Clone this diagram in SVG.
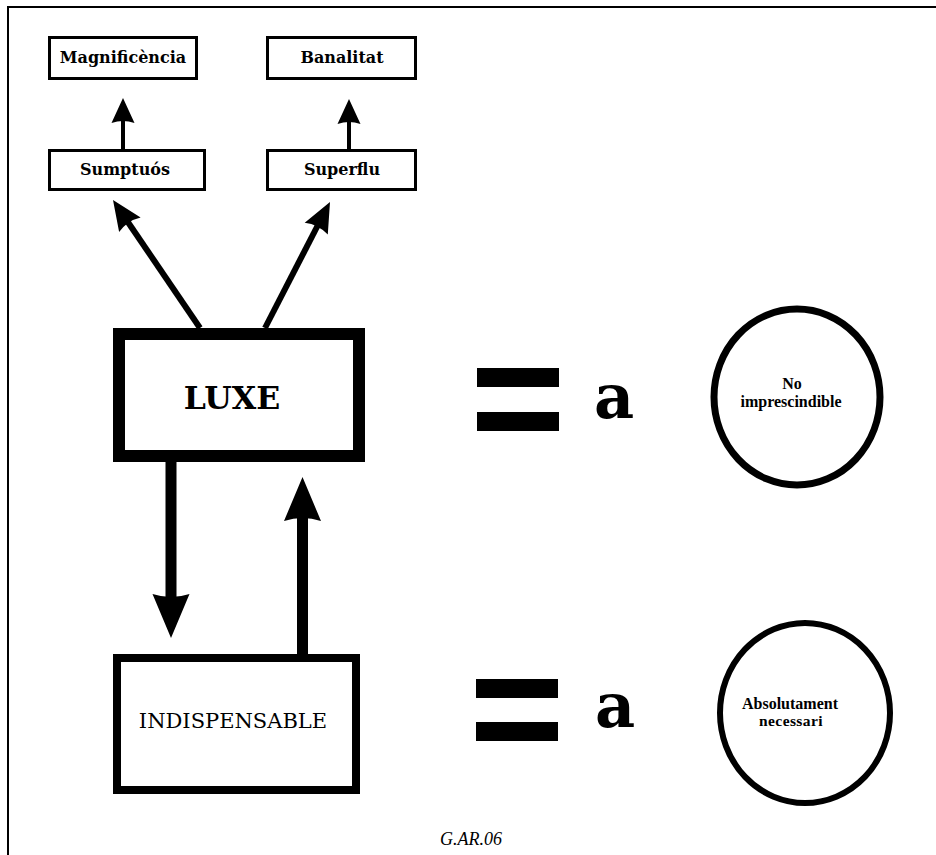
<svg xmlns="http://www.w3.org/2000/svg" width="936" height="855" viewBox="0 0 936 855">
<style>
.frame{fill:none;stroke:#000;stroke-width:2}
.sbox{fill:#fff;stroke:#000;stroke-width:3}
.stxt{font-family:"DejaVu Serif","Liberation Serif",serif;font-weight:bold;font-size:16px;text-anchor:middle;fill:#000}
.ctxt{font-family:"Liberation Serif","DejaVu Serif",serif;font-weight:bold;font-size:16px;text-anchor:middle;fill:#000}
.shaft{stroke:#000;fill:none}
.head{fill:#000}
.eq{fill:#000}
.atxt{font-family:"DejaVu Serif","Liberation Serif",serif;font-weight:bold;font-size:62px;fill:#000}
.circ{fill:#fff;stroke:#000}
</style>
<defs>
<path id="headS" d="M0,0 L11.5,25 Q0,21 -11.5,25 Z"/>
<path id="headM" d="M0,0 L13,30 Q0,25 -13,30 Z"/>
<path id="headL" d="M0,0 L18.5,44 Q0,38 -18.5,44 Z"/>
</defs>
<rect width="936" height="855" fill="#fff"/>
<path class="frame" d="M8,855 V7 H936"/>

<g id="connectors">
<line class="shaft" x1="123" y1="149" x2="123" y2="115" stroke-width="4"/>
<use href="#headS" class="head" transform="translate(123,98)"/>
<line class="shaft" x1="349" y1="149" x2="349" y2="115" stroke-width="4"/>
<use href="#headS" class="head" transform="translate(349,99)"/>
<line class="shaft" x1="200" y1="328" x2="126.5" y2="220" stroke-width="6"/>
<use href="#headM" class="head" transform="translate(113,200) rotate(-34.2)"/>
<line class="shaft" x1="265" y1="328" x2="319" y2="223" stroke-width="6"/>
<use href="#headM" class="head" transform="translate(330,202) rotate(27.3)"/>
<line class="shaft" x1="171" y1="462" x2="171" y2="600" stroke-width="11"/>
<use href="#headL" class="head" transform="translate(171,638) rotate(180)"/>
<line class="shaft" x1="302.5" y1="655" x2="302.5" y2="512" stroke-width="11"/>
<use href="#headL" class="head" transform="translate(302.5,477)"/>
</g>

<g id="magnificencia">
<rect class="sbox" x="49.5" y="37.5" width="147" height="41"/>
<text class="stxt" x="123" y="63">Magnificència</text>
</g>
<g id="banalitat">
<rect class="sbox" x="267.5" y="37.5" width="148" height="41"/>
<text class="stxt" x="342" y="63">Banalitat</text>
</g>
<g id="sumptuos">
<rect class="sbox" x="49.5" y="150.5" width="155" height="39"/>
<text class="stxt" x="125" y="175">Sumptuós</text>
</g>
<g id="superflu">
<rect class="sbox" x="267.5" y="150.5" width="148" height="39"/>
<text class="stxt" x="342" y="175">Superflu</text>
</g>

<g id="luxe">
<rect x="119" y="334" width="240" height="122" fill="#fff" stroke="#000" stroke-width="12"/>
<text x="232" y="409" font-family="DejaVu Serif, Liberation Serif, serif" font-weight="bold" font-size="31.5" text-anchor="middle">LUXE</text>
</g>
<g id="indispensable">
<rect x="117" y="658" width="239" height="132" fill="#fff" stroke="#000" stroke-width="8"/>
<text x="233" y="728" font-family="DejaVu Serif, Liberation Serif, serif" font-size="21" text-anchor="middle">INDISPENSABLE</text>
</g>

<g id="eq1">
<rect class="eq" x="477" y="368" width="82" height="19"/>
<rect class="eq" x="477" y="412" width="82" height="19"/>
<text class="atxt" x="594" y="418">a</text>
</g>
<g id="eq2">
<rect class="eq" x="476" y="679" width="82" height="19"/>
<rect class="eq" x="476" y="722" width="82" height="19"/>
<text class="atxt" x="595" y="727">a</text>
</g>

<g id="no-imprescindible">
<ellipse class="circ" cx="797" cy="397" rx="83" ry="88" stroke-width="7"/>
<text class="ctxt" x="792" y="389">No</text>
<text class="ctxt" x="791" y="407">imprescindible</text>
</g>
<g id="absolutament-necessari">
<ellipse class="circ" cx="805" cy="713" rx="85" ry="90" stroke-width="6"/>
<text class="ctxt" x="790" y="709">Absolutament</text>
<text x="791" y="726" font-family="Liberation Serif, DejaVu Serif, serif" font-weight="bold" font-size="15.5" letter-spacing="0.4" text-anchor="middle">necessari</text>
</g>

<text x="440" y="845" font-family="Liberation Serif, serif" font-style="italic" font-size="18">G.AR.06</text>
</svg>
